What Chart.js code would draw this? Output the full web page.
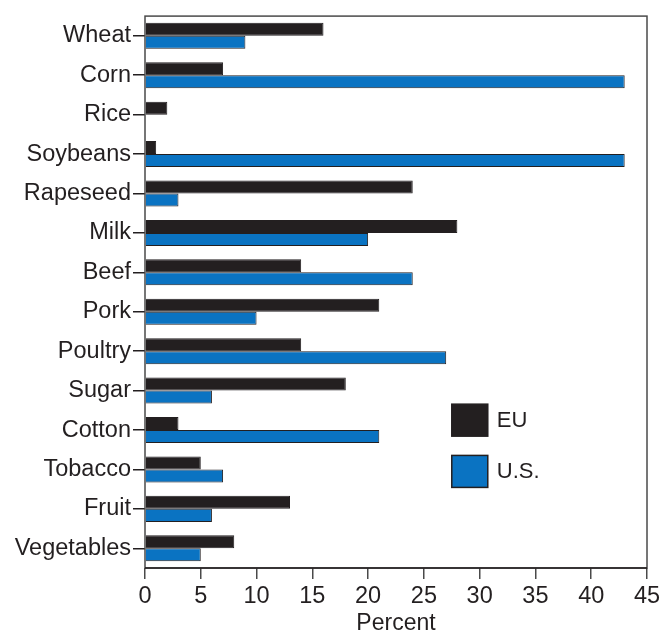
<!DOCTYPE html>
<html lang="en">
  <head>
    <meta charset="UTF-8" />
    <title>EU vs U.S.</title>
    <style>
      html, body { margin: 0; padding: 0; background: #fff; }
      .wrap { width: 660px; height: 634px; }
    </style>
  </head>
  <body>
    <div class="wrap">
      <canvas id="myChart" width="660" height="634"></canvas>
    </div>
    <script src="https://cdnjs.cloudflare.com/ajax/libs/Chart.js/4.4.0/chart.umd.min.js"></script>
    <script>
      const categories = ["Wheat", "Corn", "Rice", "Soybeans", "Rapeseed", "Milk", "Beef", "Pork", "Poultry", "Sugar", "Cotton", "Tobacco", "Fruit", "Vegetables"];
      const euValues = [16, 7, 2, 1, 24, 28, 14, 21, 14, 18, 3, 5, 13, 8];
      const usValues = [9, 43, 0, 43, 3, 20, 24, 10, 27, 6, 21, 7, 6, 5];
      const xTicks = [0, 5, 10, 15, 20, 25, 30, 35, 40, 45];

      const font = "'Liberation Sans', Arial, sans-serif";
      const ink = "#231f20";

      // frame round the plot + legend inside it
      const framePlugin = {
        id: "frame",
        afterDraw(chart) {
          const ctx = chart.ctx;
          const a = chart.chartArea;
          ctx.save();
          ctx.strokeStyle = "#4a4a4a";
          ctx.lineWidth = 1.5;
          ctx.strokeRect(a.left, a.top, a.right - a.left, a.bottom - a.top);
          ctx.strokeStyle = ink;
          ctx.beginPath();
          ctx.moveTo(a.left, a.bottom);
          ctx.lineTo(a.right, a.bottom);
          ctx.stroke();

          // legend
          const x = chart.scales.x;
          const y = chart.scales.y;
          const bx = x.getPixelForValue(27.5);
          chart.data.datasets.forEach((ds, i) => {
            const by = y.getPixelForValue(9.75 + i * 1.3);
            ctx.fillStyle = ds.backgroundColor;
            ctx.fillRect(bx, by - 16, 36, 32);
            ctx.strokeStyle = ink;
            ctx.lineWidth = 1.5;
            ctx.strokeRect(bx, by - 16, 36, 32);
            ctx.fillStyle = ink;
            ctx.font = "22px " + font;
            ctx.textBaseline = "middle";
            ctx.fillText(ds.label, bx + 45, by + 1);
          });
          ctx.restore();
        },
      };

      new Chart(document.getElementById("myChart"), {
        type: "bar",
        data: {
          labels: categories,
          datasets: [
            {
              label: "EU",
              data: euValues,
              backgroundColor: "#231f20",
              borderColor: ink,
              borderWidth: 1,
              categoryPercentage: 0.66,
              barPercentage: 1,
            },
            {
              label: "U.S.",
              data: usValues,
              backgroundColor: "#0a73c2",
              borderColor: ink,
              borderWidth: 1,
              categoryPercentage: 0.66,
              barPercentage: 1,
            },
          ],
        },
        options: {
          indexAxis: "y",
          responsive: false,
          animation: false,
          layout: { padding: { top: 13, right: 13, left: 0, bottom: 0 } },
          plugins: {
            legend: { display: false },
            tooltip: { enabled: false },
          },
          scales: {
            x: {
              min: 0,
              max: 45,
              afterBuildTicks: (s) => {
                s.ticks = xTicks.map((v) => ({ value: v }));
              },
              afterFit: (s) => {
                s.height = 66;
                s.paddingLeft = 0;
                s.paddingRight = 0;
              },
              grid: { drawOnChartArea: false, tickLength: 11, color: "#4a4a4a", lineWidth: 1.5 },
              border: { display: false },
              ticks: { color: ink, font: { family: font, size: 23.5 }, padding: 3 },
              title: {
                display: true,
                text: "Percent",
                color: ink,
                font: { family: font, size: 23 },
                padding: { top: 4, bottom: -3 },
              },
            },
            y: {
              afterFit: (s) => {
                s.width = 145;
              },
              grid: { drawOnChartArea: false, tickLength: 12, color: ink, lineWidth: 1.5, offset: false },
              border: { display: false },
              ticks: { color: ink, font: { family: font, size: 23.5 }, padding: 2 },
            },
          },
        },
        plugins: [framePlugin],
      });
    </script>
  </body>
</html>
